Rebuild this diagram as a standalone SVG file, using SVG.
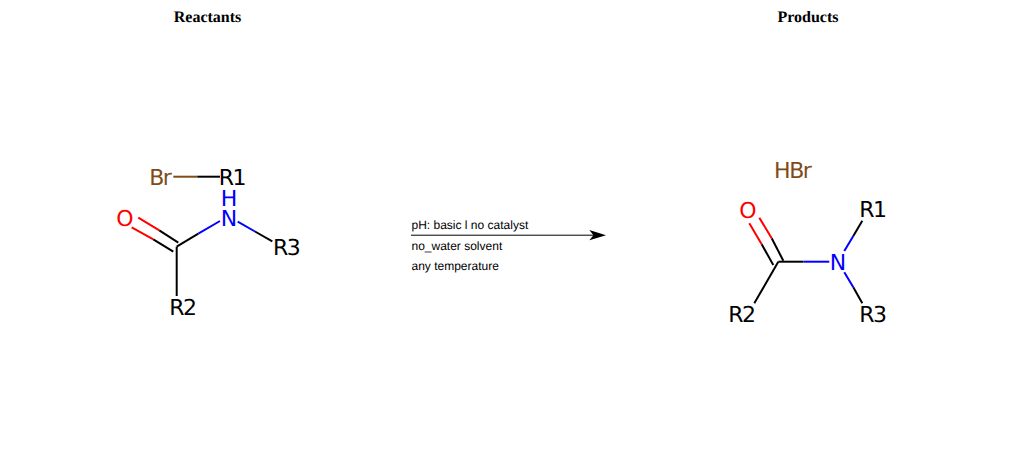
<svg xmlns="http://www.w3.org/2000/svg" width="1024" height="450" viewBox="0 0 1024 450">
<style>
text{text-rendering:geometricPrecision}
.h{font:bold 16px "Liberation Serif",serif;fill:#000;text-anchor:middle}
.c{font:12px "Liberation Sans",Arial,sans-serif;fill:#000}
.a{font:22px "DejaVu Sans",sans-serif;text-anchor:middle;letter-spacing:-1.5px}
.b{fill:none;stroke-width:2;stroke-linecap:butt}
.k{stroke:#000}.r{stroke:#f00}.n{stroke:#00f}.br{stroke:#7f4c19}
</style>
<rect width="1024" height="450" fill="#fff"/>
<g id="titles"><text class="h" x="207.5" y="22">Reactants</text><text class="h" x="808" y="22">Products</text></g>
<g id="connectors" class="b">
<path class="br" d="M173.3 176.7H197.3"/><path class="k" d="M197.3 176.7H220"/>
<path class="k" d="M176.7 246.7L198.3 233.6"/><path class="n" d="M198.3 233.6L220 221"/>
<path class="n" d="M237.7 221.7L255 231.5"/><path class="k" d="M255 231.5L272.3 241.3"/>
<path class="k" d="M176.7 246.7V296"/>
<path class="k" d="M178.3 242.7L159.3 230.4"/><path class="r" d="M159.3 230.4L138.3 217.7"/>
<path class="k" d="M173.3 251.7L153.3 239.3"/><path class="r" d="M153.3 239.3L131.7 227.3"/>
<path class="k" d="M778.3 261.7H803.3"/><path class="n" d="M803.3 261.7H829.3"/>
<path class="n" d="M844.3 251L853.3 236"/><path class="k" d="M853.3 236L862.3 220.7"/>
<path class="n" d="M844.3 272.3L853.3 287.3"/><path class="k" d="M853.3 287.3L862.3 303.3"/>
<path class="k" d="M778.3 261.7L754.3 303.3"/>
<path class="k" d="M783.3 260.7L771.7 238.3"/><path class="r" d="M771.7 238.3L759.3 217.7"/>
<path class="k" d="M773.3 265L761.7 244.3"/><path class="r" d="M761.7 244.3L749.3 223.3"/>
</g>
<g id="reaction-arrow">
<path d="M411 235.2H594" stroke="#000" stroke-width="1" fill="none"/>
<path d="M589.3 230L606 235.3L589.3 240.3L593.5 235.3Z" fill="#000"/>
<text class="c" x="411.5" y="229">pH: basic l no catalyst</text>
<text class="c" x="411.5" y="250">no_water solvent</text>
<text class="c" x="411.5" y="270">any temperature</text>
</g>
<g id="reactant-br"><text class="a" fill="#7f4c19" x="159.7" y="185">Br</text></g>
<g id="reactant-r1"><text class="a" fill="#000" x="231.8" y="185">R1</text></g>
<g id="reactant-n"><text class="a" fill="#00f" x="228.2" y="206">H</text><text class="a" fill="#00f" x="228.2" y="226">N</text></g>
<g id="reactant-o"><text class="a" fill="#f00" x="124.2" y="226">O</text></g>
<g id="reactant-r3"><text class="a" fill="#000" x="286.2" y="255">R3</text></g>
<g id="reactant-r2"><text class="a" fill="#000" x="182.4" y="315">R2</text></g>
<g id="product-hbr"><text class="a" fill="#7f4c19" x="792.2" y="178">HBr</text></g>
<g id="product-o"><text class="a" fill="#f00" x="747.2" y="218">O</text></g>
<g id="product-n"><text class="a" fill="#00f" x="837.2" y="270">N</text></g>
<g id="product-r1"><text class="a" fill="#000" x="872.4" y="217">R1</text></g>
<g id="product-r3"><text class="a" fill="#000" x="872.4" y="322">R3</text></g>
<g id="product-r2"><text class="a" fill="#000" x="741.4" y="322">R2</text></g>
</svg>
